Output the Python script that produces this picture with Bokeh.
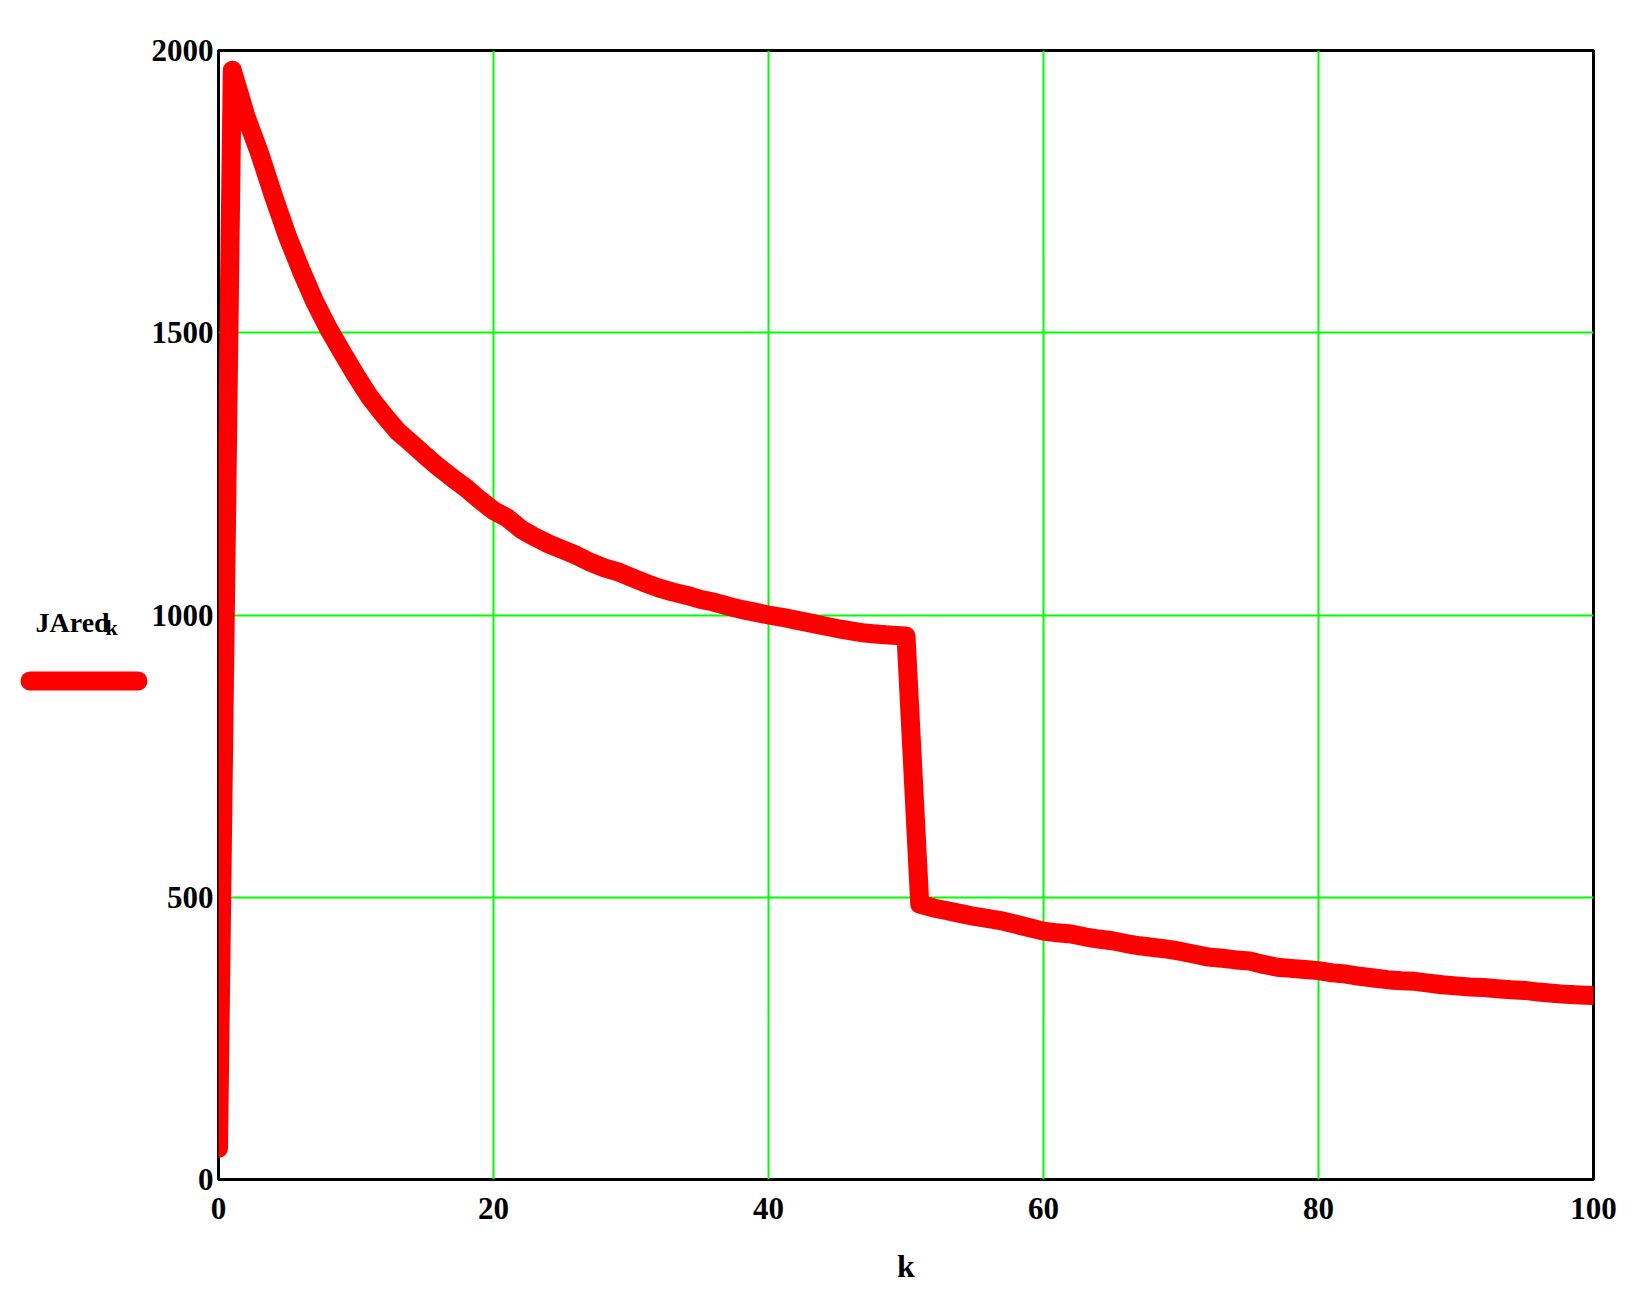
from bokeh.plotting import figure
from bokeh.models import Range1d, FixedTicker
from bokeh.layouts import row
from bokeh.core.properties import value
from bokeh.embed import file_html
from bokeh.resources import INLINE

# ---- data ----
k_values = list(range(0, 101))
jared_values = [
    55, 1965, 1883, 1817, 1742, 1672, 1611, 1555, 1507, 1465,
    1424, 1386, 1355, 1326, 1305, 1283, 1262, 1243, 1225, 1204,
    1185, 1172, 1152, 1138, 1126, 1116, 1106, 1094, 1084, 1077,
    1067, 1057, 1048, 1041, 1035, 1028, 1023, 1016, 1010, 1005,
    1000, 996, 991, 986, 981, 976, 972, 968, 966, 964,
    963, 488, 481, 476, 471, 466, 462, 458, 452, 446,
    440, 437, 435, 430, 426, 423, 418, 414, 411, 408,
    404, 399, 394, 392, 389, 387, 381, 376, 374, 372,
    370, 366, 364, 360, 357, 354, 352, 351, 348, 345,
    343, 341, 340, 338, 336, 335, 332, 330, 328, 327,
    326,
]
x_ticks = [0, 20, 40, 60, 80, 100]
y_ticks = [0, 500, 1000, 1500, 2000]
series_name = "JAred"
series_sub = "k"
x_label = "k"

FONT = "Liberation Serif"
RED = "#FF0000"
LINE_W = 19
H = 1296
LEFT_W = 148
TOP, FH = 50, 1129
BOTTOM = H - TOP - FH

y_range = Range1d(0, 2000)

# ---------------- main chart ----------------
p = figure(
    frame_width=1375, frame_height=FH,
    x_range=Range1d(0, 100), y_range=y_range,
    output_backend="svg", toolbar_location=None,
    min_border_left=216 - LEFT_W, min_border_top=TOP,
    min_border_right=45, min_border_bottom=BOTTOM,
)
p.background_fill_color = "white"
p.border_fill_color = "white"
p.outline_line_color = "black"
p.outline_line_width = 3

p.xgrid.ticker = FixedTicker(ticks=x_ticks)
p.ygrid.ticker = FixedTicker(ticks=y_ticks)
for g in (p.xgrid, p.ygrid):
    g.grid_line_color = "#00FF00"
    g.grid_line_width = 2

p.xaxis.ticker = FixedTicker(ticks=x_ticks)
p.yaxis.ticker = FixedTicker(ticks=y_ticks)
for ax in (p.xaxis, p.yaxis):
    ax.axis_line_color = None
    ax.major_tick_line_color = None
    ax.minor_tick_line_color = None
    ax.major_tick_out = 0
    ax.major_tick_in = 0
    ax.minor_tick_out = 0
    ax.major_label_text_font = FONT
    ax.major_label_text_font_style = "bold"
    ax.major_label_text_font_size = "31px"
    ax.major_label_text_color = "black"
p.xaxis.major_label_standoff = 18
p.yaxis.major_label_standoff = 5

p.xaxis.axis_label = x_label
p.xaxis.axis_label_text_font = FONT
p.xaxis.axis_label_text_font_style = "bold"
p.xaxis.axis_label_text_font_size = "32px"
p.xaxis.axis_label_text_color = "black"
p.xaxis.axis_label_standoff = 26

p.line(k_values, jared_values, line_color=RED, line_width=LINE_W,
       line_join="round", line_cap="round")

# ---------------- left strip: series label + legend key ----------------
# same vertical layout and y scale as the chart; x in pixels of the strip
q = figure(
    title=None, frame_width=LEFT_W, frame_height=FH,
    x_range=Range1d(0, LEFT_W), y_range=y_range,
    x_axis_location=None, y_axis_location=None,
    output_backend="svg", toolbar_location=None,
    min_border_left=0, min_border_right=0,
    min_border_top=TOP, min_border_bottom=BOTTOM,
)
q.grid.visible = False
q.outline_line_color = None
q.background_fill_color = "white"
q.border_fill_color = "white"

# label sits level with the middle of the value axis, key just below it
name_pos = dict(x=35, y=987)
sub_pos = dict(x=105, y=978)
key_pos = dict(x0=29.5, x1=137.5, y=883)

q.text(x=[name_pos["x"]], y=[name_pos["y"]], text=[series_name],
       text_font=value(FONT), text_font_style="bold", text_font_size="28px",
       text_color="black", text_baseline="alphabetic", text_align="left")
q.text(x=[sub_pos["x"]], y=[sub_pos["y"]], text=[series_sub],
       text_font=value(FONT), text_font_style="bold", text_font_size="22px",
       text_color="black", text_baseline="alphabetic", text_align="left")
q.line(x=[key_pos["x0"], key_pos["x1"]], y=[key_pos["y"], key_pos["y"]],
       line_color=RED, line_width=LINE_W, line_cap="round")

layout = row(q, p, spacing=0)
open("out.html", "w").write(file_html(layout, INLINE))
